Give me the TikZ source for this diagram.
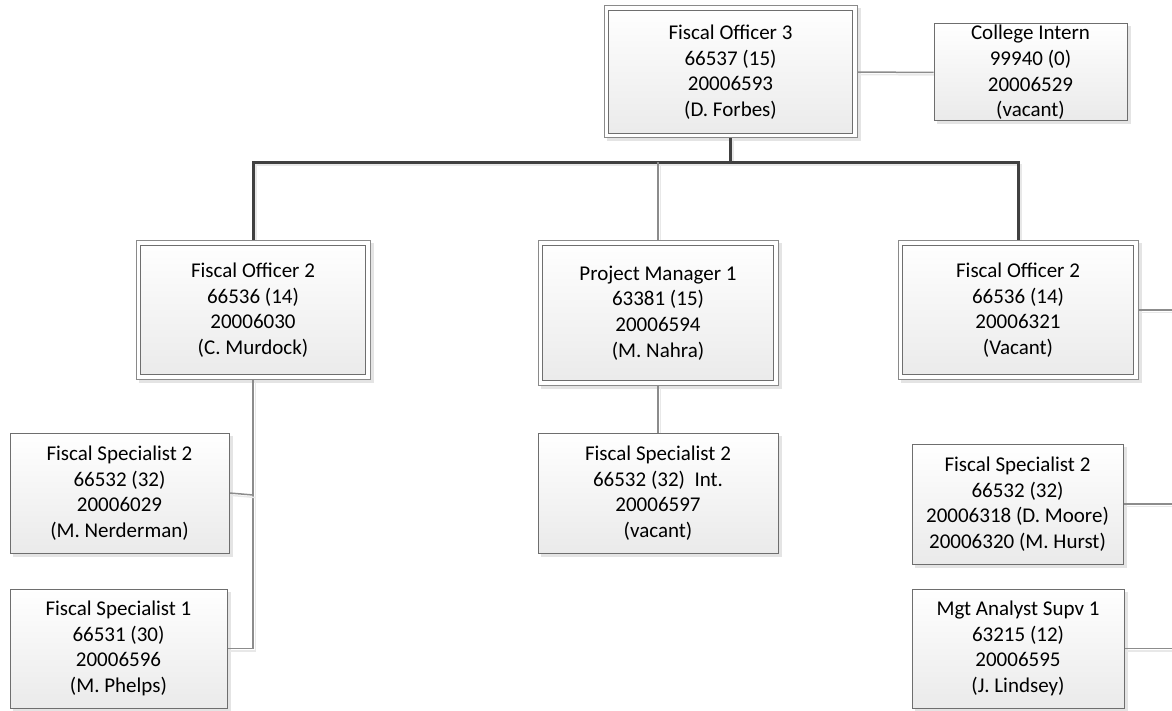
\documentclass[tikz,border=0pt]{standalone}
\usepackage{fontspec}
\setmainfont{Carlito}
\usetikzlibrary{backgrounds}
\definecolor{framegray}{HTML}{8A8A8A}
\definecolor{innergray}{HTML}{6E6E6E}
\definecolor{boxbot}{HTML}{EAEAEA}
\definecolor{linegray}{HTML}{8C8C8C}
\definecolor{busgray}{HTML}{404040}
\definecolor{shadowgray}{HTML}{E4E4E4}
\definecolor{lineshadow}{HTML}{E8E8E8}
\begin{document}
\begin{tikzpicture}[x=1pt,y=-1pt,
  txt/.style={font=\fontsize{21}{25.6}\selectfont, align=center, text=black, inner sep=0pt},
  officer/.style={txt, rectangle, draw=framegray, line width=1pt, fill=white,
    path picture={\draw[innergray, line width=1pt, top color=white, bottom color=boxbot]
      ([shift={(4.5pt,-4.5pt)}]path picture bounding box.north west) rectangle
      ([shift={(-4.5pt,4.5pt)}]path picture bounding box.south east);}},
  staff/.style={txt, rectangle, draw=innergray, line width=1pt, top color=white, bottom color=boxbot},
  boxshadow/.style={fill=shadowgray},
  thinlink/.style={draw=linegray, line width=1.5pt,
    preaction={draw=lineshadow, line width=1.5pt, transform canvas={shift={(2.5pt,-2.5pt)}}}},
  buslink/.style={draw=busgray, line width=3pt,
    preaction={draw=lineshadow, line width=2pt, transform canvas={shift={(2.5pt,-2.5pt)}}}}
]
\useasboundingbox (0,0) rectangle (1172,711);

% boxes
\node[officer, minimum width=253pt, minimum height=132pt] (fo3) at (730.5,72)
  {Fiscal Officer 3\\66537 (15)\\20006593\\(D. Forbes)};
\node[staff, minimum width=193pt, minimum height=97pt] (ci) at (1030.5,72.5)
  {College Intern\\99940 (0)\\20006529\\(vacant)};
\node[officer, minimum width=234pt, minimum height=138pt] (foL) at (253,310)
  {Fiscal Officer 2\\66536 (14)\\20006030\\(C. Murdock)};
\node[officer, minimum width=240pt, minimum height=144pt] (pm) at (658,313)
  {Project Manager 1\\63381 (15)\\20006594\\(M. Nahra)};
\node[officer, minimum width=240pt, minimum height=138pt] (foR) at (1018,310)
  {Fiscal Officer 2\\66536 (14)\\20006321\\(Vacant)};
\node[staff, minimum width=219pt, minimum height=120pt] (fsL2) at (119.5,493)
  {Fiscal Specialist 2\\66532 (32)\\20006029\\(M. Nerderman)};
\node[staff, minimum width=217pt, minimum height=119pt] (fsL1) at (118.5,648.5)
  {Fiscal Specialist 1\\66531 (30)\\20006596\\(M. Phelps)};
\node[staff, minimum width=240pt, minimum height=120pt] (fsM) at (658,493)
  {Fiscal Specialist 2\\66532 (32)\ \ Int.\\20006597\\(vacant)};
\node[staff, minimum width=211pt, minimum height=120pt] (fsR2) at (1017.5,504)
  {Fiscal Specialist 2\\66532 (32)\\20006318 (D. Moore)\\20006320 (M. Hurst)};
\node[staff, minimum width=212pt, minimum height=119pt] (mas) at (1018,648.5)
  {Mgt Analyst Supv 1\\63215 (12)\\20006595\\(J. Lindsey)};

% helper coordinates
\coordinate (busC) at (730.5,162.5);
\coordinate (jL2) at (253,495);
\coordinate (edge) at (1172,0);

\begin{scope}[on background layer]
  \foreach \n in {fo3,ci,foL,pm,foR,fsL2,fsL1,fsM,fsR2,mas}
    \fill[boxshadow] ([shift={(3pt,-3pt)}]\n.north west) rectangle ([shift={(3pt,-3pt)}]\n.south east);
  % thick bus
  \draw[buslink] (fo3.south) -- (busC);
  \draw[buslink] (foL.north) -- (foL.north |- busC) -- (foR.north |- busC) -- (foR.north);
  % thin links
  \draw[thinlink] (fo3.east) -- (ci.west);
  \draw[thinlink] (pm.north) -- (pm.north |- busC);
  \draw[thinlink] (pm.south) -- (fsM.north);
  \draw[thinlink] (foL.south) |- (fsL1.east);
  \draw[thinlink] (fsL2.east) -- (jL2);
  \draw[thinlink] (foR.east) -- (foR.east -| edge);
  \draw[thinlink] (fsR2.east) -- (fsR2.east -| edge);
  \draw[thinlink] (mas.east) -- (mas.east -| edge);
\end{scope}
\end{tikzpicture}
\end{document}
